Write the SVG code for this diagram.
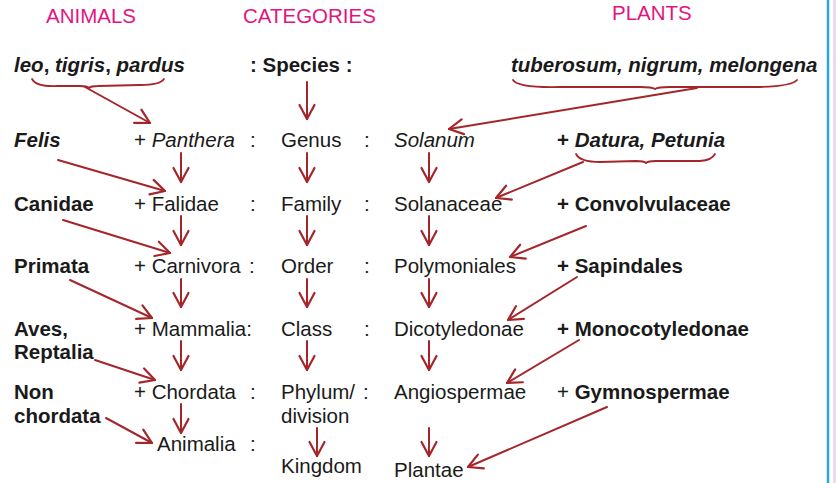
<svg xmlns="http://www.w3.org/2000/svg" width="837" height="483" viewBox="0 0 837 483">
<defs>
<style>
text{font-family:"Liberation Sans",Arial,sans-serif;font-size:20.5px;fill:#1a1a1a}
.h{fill:#e4147f}
.b{font-weight:bold}
.i{font-style:italic}
.c{fill:none;stroke:#a4262b;stroke-width:2;stroke-linecap:round}
.br{fill:none;stroke:#a4262b;stroke-width:1.8;stroke-linecap:round;stroke-linejoin:round}
</style>
<marker id="ah" markerUnits="userSpaceOnUse" viewBox="-16 -10 20 20" markerWidth="20" markerHeight="20" refX="0" refY="0" orient="auto">
<path d="M-14,-7.5 L0,0 L-14,7.5" fill="none" stroke="#a4262b" stroke-width="2.2" stroke-linecap="round" stroke-linejoin="round"/>
</marker>
</defs>
<rect width="837" height="483" fill="#ffffff"/>
<line x1="828" y1="0" x2="828" y2="483" stroke="#2aa6d6" stroke-width="2.5"/>
<line x1="834.5" y1="0" x2="834.5" y2="483" stroke="#ead2f2" stroke-width="2.5"/>

<g id="headers">
<text class="h" x="46" y="23">ANIMALS</text>
<text class="h" x="243" y="23">CATEGORIES</text>
<text class="h" x="612" y="20">PLANTS</text>
</g>

<g id="animals">
<text class="b i" x="14" y="72">leo<tspan font-style="normal">,</tspan> tigris<tspan font-style="normal">,</tspan> pardus</text>
<text class="b i" x="14" y="147">Felis</text>
<text class="b" x="14" y="211">Canidae</text>
<text class="b" x="14" y="273">Primata</text>
<text class="b" x="14" y="336">Aves,</text>
<text class="b" x="14" y="359">Reptalia</text>
<text class="b" x="14" y="399">Non</text>
<text class="b" x="14" y="423">chordata</text>
<text x="134" y="147">+ <tspan font-style="italic">Panthera</tspan></text>
<text x="134" y="211">+ Falidae</text>
<text x="134" y="273">+ Carnivora</text>
<text x="134" y="336">+ Mammalia:</text>
<text x="134" y="399">+ Chordata</text>
<text x="157" y="451">Animalia</text>
<text x="250" y="147">:</text>
<text x="250" y="211">:</text>
<text x="249" y="273">:</text>
<text x="250" y="399">:</text>
<text x="250" y="451">:</text>
</g>

<g id="categories">
<text class="b" x="250" y="72">: Species :</text>
<text x="281" y="147">Genus</text>
<text x="281" y="211">Family</text>
<text x="281" y="273">Order</text>
<text x="281" y="336">Class</text>
<text x="281" y="399">Phylum/</text>
<text x="281" y="423">division</text>
<text x="281" y="473">Kingdom</text>
<text x="364" y="147">:</text>
<text x="364" y="211">:</text>
<text x="364" y="273">:</text>
<text x="364" y="336">:</text>
<text x="363" y="399">:</text>
</g>

<g id="plants">
<text class="b i" x="511" y="72">tuberosum, nigrum, melongena</text>
<text class="i" x="394" y="147">Solanum</text>
<text x="394" y="211">Solanaceae</text>
<text x="394" y="273">Polymoniales</text>
<text x="394" y="336">Dicotyledonae</text>
<text x="394" y="399">Angiospermae</text>
<text x="394" y="477">Plantae</text>
<text class="b" x="557" y="147">+ <tspan font-style="italic">Datura, Petunia</tspan></text>
<text class="b" x="557" y="211">+ Convolvulaceae</text>
<text class="b" x="557" y="273">+ Sapindales</text>
<text class="b" x="557" y="336">+ Monocotyledonae</text>
<text x="557" y="399">+ <tspan font-weight="bold">Gymnospermae</tspan></text>
</g>

<g id="connectors">
<path class="br" d="M32,79 Q36,87 58,86 L80,86 Q87,86 89,88 Q91,86 98,86 L140,85 Q160,85 164,79"/>
<path class="br" d="M513,80 Q518,88 560,87 L640,87 Q652,87 655,89 Q658,87 670,87 L760,87 Q792,86 797,80"/>
<path class="br" d="M576,154 Q580,162 600,162 L636,161 Q644,161 646,163 Q648,161 656,161 L700,161 Q712,160 715,154"/>
<line class="c" marker-end="url(#ah)" x1="85" y1="87" x2="150" y2="123"/>
<line class="c" marker-end="url(#ah)" x1="697" y1="88" x2="449" y2="129"/>
<line class="c" marker-end="url(#ah)" x1="307" y1="82" x2="307" y2="119"/>
<line class="c" marker-end="url(#ah)" x1="181" y1="153" x2="181" y2="182"/>
<line class="c" marker-end="url(#ah)" x1="181" y1="216" x2="181" y2="245"/>
<line class="c" marker-end="url(#ah)" x1="181" y1="279" x2="181" y2="307"/>
<line class="c" marker-end="url(#ah)" x1="181" y1="341" x2="181" y2="370"/>
<line class="c" marker-end="url(#ah)" x1="181" y1="404" x2="181" y2="433"/>
<line class="c" marker-end="url(#ah)" x1="307" y1="153" x2="307" y2="182"/>
<line class="c" marker-end="url(#ah)" x1="307" y1="216" x2="307" y2="245"/>
<line class="c" marker-end="url(#ah)" x1="307" y1="279" x2="307" y2="307"/>
<line class="c" marker-end="url(#ah)" x1="307" y1="341" x2="307" y2="370"/>
<line class="c" marker-end="url(#ah)" x1="317" y1="428" x2="317" y2="456"/>
<line class="c" marker-end="url(#ah)" x1="429" y1="153" x2="429" y2="182"/>
<line class="c" marker-end="url(#ah)" x1="429" y1="216" x2="429" y2="245"/>
<line class="c" marker-end="url(#ah)" x1="429" y1="279" x2="429" y2="307"/>
<line class="c" marker-end="url(#ah)" x1="429" y1="341" x2="429" y2="370"/>
<line class="c" marker-end="url(#ah)" x1="429" y1="428" x2="429" y2="456"/>
<line class="c" marker-end="url(#ah)" x1="58" y1="160" x2="165" y2="191"/>
<line class="c" marker-end="url(#ah)" x1="63" y1="220" x2="170" y2="253"/>
<line class="c" marker-end="url(#ah)" x1="70" y1="280" x2="152" y2="318"/>
<line class="c" marker-end="url(#ah)" x1="95" y1="360" x2="155" y2="380"/>
<line class="c" marker-end="url(#ah)" x1="106" y1="418" x2="152" y2="443"/>
<line class="c" marker-end="url(#ah)" x1="583" y1="162" x2="496" y2="198"/>
<line class="c" marker-end="url(#ah)" x1="586" y1="226" x2="510" y2="257"/>
<line class="c" marker-end="url(#ah)" x1="577" y1="277" x2="508" y2="320"/>
<line class="c" marker-end="url(#ah)" x1="579" y1="340" x2="507" y2="383"/>
<line class="c" marker-end="url(#ah)" x1="607" y1="407" x2="468" y2="467"/>
</g>
</svg>
